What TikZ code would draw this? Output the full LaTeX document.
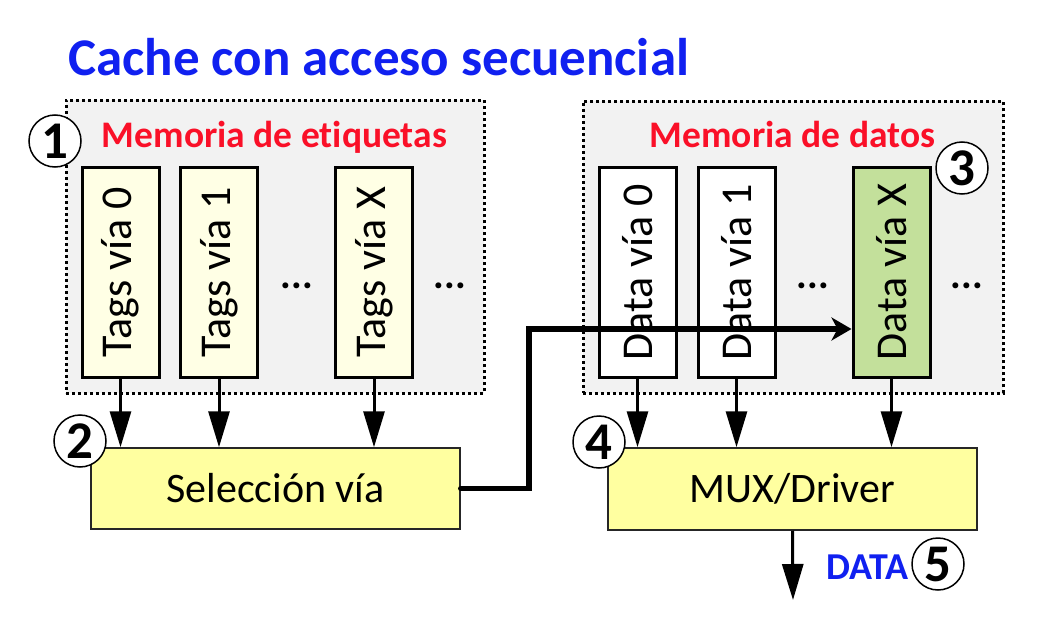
\documentclass[tikz,border=0pt]{standalone}
\usepackage{fontspec}
\setmainfont{Carlito}[Ligatures=NoCommon]
\usetikzlibrary{arrows.meta}
\definecolor{titleblue}{RGB}{16,32,240}
\definecolor{labelred}{RGB}{250,16,40}
\definecolor{grpgray}{RGB}{242,242,242}
\definecolor{tagfill}{RGB}{255,255,229}
\definecolor{selfill}{RGB}{255,255,160}
\definecolor{datagreen}{RGB}{195,224,155}
\begin{document}
\begin{tikzpicture}[x=1pt,y=-1pt,
  grp/.style={draw=black, fill=grpgray, line width=3pt, dash pattern=on 3pt off 3pt},
  waybox/.style={draw=black, line width=3pt, minimum width=77pt, minimum height=210pt, inner sep=0pt,
     font=\fontsize{44}{48}\selectfont},
  unitbox/.style={draw=black!85, line width=1.5pt, fill=selfill, inner sep=0pt,
     font=\fontsize{42}{46}\selectfont},
  circ/.style={circle, draw=black, line width=1.5pt, fill=white, minimum size=52pt, inner sep=0pt,
     font=\bfseries\fontsize{53}{53}\selectfont},
  grplabel/.style={anchor=base, text=labelred, font=\bfseries\fontsize{37.5}{40}\selectfont, inner sep=0pt},
  dots/.style={anchor=base, font=\bfseries\fontsize{40}{42}\selectfont, inner sep=0pt},
  arr/.style={line width=3pt, -{Triangle[width=21pt,length=36pt]}},
  bus/.style={line width=5.5pt, line cap=round, -{Stealth[length=20pt,width=23pt,inset=6pt]}}
]
\useasboundingbox (0,0) rectangle (1058,642);

% title
\node[anchor=base west, inner sep=0pt, text=titleblue, font=\bfseries\fontsize{53}{56}\selectfont]
  (title) at (68,75) {Cache con acceso secuencial};

% groups
\node[grp, minimum width=418pt, minimum height=293pt, inner sep=0pt] (gtag) at (275,246.5) {};
\node[grp, minimum width=420pt, minimum height=292pt, inner sep=0pt] (gdata) at (793,247) {};
\node[grplabel] (ltag) at (274.5,147) {Memoria de etiquetas};
\node[grplabel] (ldata) at (792.5,147) {Memoria de datos};

% tag ways
\node[waybox, fill=tagfill] (t0) at (120.5,272) {\rotatebox{90}{Tags vía 0}};
\node[waybox, fill=tagfill] (t1) at (219,272) {\rotatebox{90}{Tags vía 1}};
\node[waybox, fill=tagfill] (tX) at (374,272) {\rotatebox{90}{Tags vía X}};
\node[dots] (d1) at (297,288) {...};
\node[dots] (d2) at (450,288) {...};

% data ways
\node[waybox, fill=white] (w0) at (637.5,272) {\rotatebox{90}{Data vía 0}};
\node[waybox, fill=white] (w1) at (736.5,272) {\rotatebox{90}{Data vía 1}};
\node[waybox, fill=datagreen] (wX) at (891.5,272) {\rotatebox{90}{Data vía X}};
\node[dots] (d3) at (813,288) {...};
\node[dots] (d4) at (967,288) {...};

% units
\node[unitbox, minimum width=369pt, minimum height=81pt] (sel) at (275.5,488.5) {Selección vía};
\node[unitbox, minimum width=369pt, minimum height=82pt] (mux) at (792.5,489) {MUX/Driver};

% arrows
\foreach \w in {t0,t1,tX} \draw[arr] (\w.south) -- (\w.south |- sel.north);
\foreach \w in {w0,w1,wX} \draw[arr] (\w.south) -- (\w.south |- mux.north);
\coordinate (outend) at (793,600);
\draw[arr] (mux.south) -- (outend);

% bus from way selection to data way X
\coordinate (turn) at (529,329);
\draw[bus] (sel.east) -| (turn) -- (turn -| wX.west);

% labels
\node[anchor=base east, inner sep=0pt, text=titleblue, font=\bfseries\fontsize{38}{40}\selectfont]
  (data) at (909,579) {DATA};

% step circles
\node[circ] (c1) at (55,141) {1};
\node[circ] (c2) at (80,441) {2};
\node[circ] (c3) at (962,168) {3};
\node[circ] (c4) at (599,442) {4};
\node[circ] (c5) at (938,564) {5};
\end{tikzpicture}
\end{document}
